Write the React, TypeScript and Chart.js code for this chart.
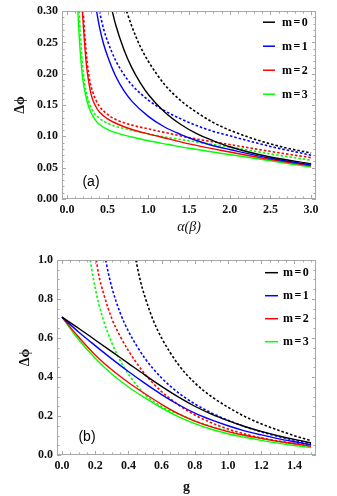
import React, { useEffect, useRef } from "react";
import { Chart, registerables } from "chart.js";

Chart.register(...registerables);

// ---------- Panel (a) data ----------
const aXTicks = [0, 0.5, 1.0, 1.5, 2.0, 2.5, 3.0];
const aYTicks = [0, 0.05, 0.1, 0.15, 0.2, 0.25, 0.3];

const aM0SolidX = [0.557, 0.6, 0.7, 0.8, 0.9, 1.0, 1.2, 1.4, 1.6, 1.8, 2.0, 2.5, 3.0];
const aM0SolidY = [0.3, 0.278, 0.239, 0.209, 0.186, 0.167, 0.139, 0.119, 0.104, 0.093, 0.0835, 0.067, 0.0565];
const aM0DashX = [0.733, 0.8, 0.9, 1.0, 1.2, 1.4, 1.6, 1.8, 2.0, 2.25, 2.5, 2.75, 3.0];
const aM0DashY = [0.3, 0.275, 0.244, 0.22, 0.183, 0.157, 0.138, 0.122, 0.11, 0.098, 0.088, 0.08, 0.0735];

const aM1SolidX = [0.365, 0.4, 0.45, 0.5, 0.6, 0.7, 0.8, 1.0, 1.2, 1.4, 1.6, 1.8, 2.0, 2.5, 3.0];
const aM1SolidY = [0.3, 0.275, 0.248, 0.228, 0.196, 0.173, 0.156, 0.132, 0.115, 0.103, 0.093, 0.085, 0.079, 0.065, 0.0545];
const aM1DashX = [0.4, 0.45, 0.5, 0.6, 0.7, 0.8, 1.0, 1.2, 1.4, 1.6, 1.8, 2.0, 2.5, 3.0];
const aM1DashY = [0.3, 0.272, 0.252, 0.221, 0.199, 0.182, 0.158, 0.141, 0.128, 0.117, 0.108, 0.101, 0.084, 0.07];

const aM2SolidX = [0.19, 0.21, 0.23, 0.25, 0.3, 0.35, 0.4, 0.5, 0.6, 0.8, 1.0, 1.25, 1.5, 2.0, 2.5, 3.0];
const aM2SolidY = [0.3, 0.262, 0.228, 0.203, 0.166, 0.149, 0.139, 0.128, 0.121, 0.111, 0.104, 0.096, 0.088, 0.075, 0.063, 0.053];
const aM2DashX = [0.2, 0.22, 0.25, 0.28, 0.32, 0.36, 0.4, 0.5, 0.6, 0.8, 1.0, 1.25, 1.5, 2.0, 2.5, 3.0];
const aM2DashY = [0.3, 0.262, 0.218, 0.19, 0.17, 0.157, 0.148, 0.135, 0.127, 0.118, 0.112, 0.105, 0.098, 0.087, 0.076, 0.066];

const aM3SolidX = [0.135, 0.15, 0.17, 0.2, 0.25, 0.3, 0.35, 0.4, 0.5, 0.6, 0.8, 1.0, 1.25, 1.5, 2.0, 2.5, 3.0];
const aM3SolidY = [0.3, 0.262, 0.225, 0.187, 0.155, 0.137, 0.126, 0.119, 0.111, 0.106, 0.099, 0.093, 0.087, 0.081, 0.071, 0.061, 0.051];
const aM3DashX = [0.15, 0.17, 0.2, 0.23, 0.27, 0.32, 0.4, 0.5, 0.6, 0.8, 1.0, 1.25, 1.5, 2.0, 2.5, 3.0];
const aM3DashY = [0.3, 0.252, 0.203, 0.175, 0.155, 0.14, 0.129, 0.121, 0.116, 0.11, 0.104, 0.098, 0.093, 0.083, 0.072, 0.062];

// ---------- Panel (b) data ----------
const bXTicks = [0, 0.2, 0.4, 0.6, 0.8, 1.0, 1.2, 1.4];
const bYTicks = [0, 0.2, 0.4, 0.6, 0.8, 1.0];

const bSolidX = [0, 0.1, 0.2, 0.3, 0.4, 0.5, 0.6, 0.7, 0.8, 0.9, 1.0, 1.1, 1.2, 1.3, 1.4, 1.5];
const bM0SolidY = [0.707, 0.65, 0.59, 0.53, 0.47, 0.41, 0.352, 0.298, 0.25, 0.21, 0.176, 0.146, 0.121, 0.099, 0.08, 0.063];
const bM1SolidY = [0.707, 0.631, 0.561, 0.493, 0.428, 0.367, 0.31, 0.259, 0.215, 0.18, 0.15, 0.124, 0.103, 0.084, 0.068, 0.053];
const bM2SolidY = [0.707, 0.605, 0.513, 0.437, 0.372, 0.314, 0.26, 0.212, 0.174, 0.144, 0.12, 0.101, 0.085, 0.07, 0.058, 0.045];
const bM3SolidY = [0.707, 0.592, 0.496, 0.415, 0.349, 0.293, 0.242, 0.197, 0.161, 0.132, 0.109, 0.091, 0.075, 0.061, 0.049, 0.038];

const bM0DashX = [0.445, 0.47, 0.5, 0.55, 0.6, 0.7, 0.8, 0.9, 1.0, 1.1, 1.2, 1.3, 1.4, 1.5];
const bM0DashY = [1.0, 0.9, 0.81, 0.69, 0.6, 0.465, 0.37, 0.3, 0.245, 0.198, 0.16, 0.128, 0.099, 0.073];
const bM1DashX = [0.263, 0.28, 0.3, 0.35, 0.4, 0.45, 0.5, 0.6, 0.7, 0.8, 0.9, 1.0, 1.1, 1.2, 1.3, 1.4, 1.5];
const bM1DashY = [1.0, 0.93, 0.86, 0.73, 0.635, 0.56, 0.495, 0.395, 0.32, 0.262, 0.216, 0.178, 0.146, 0.119, 0.096, 0.076, 0.058];
const bM2DashX = [0.207, 0.22, 0.25, 0.3, 0.35, 0.4, 0.5, 0.6, 0.7, 0.8, 0.9, 1.0, 1.1, 1.2, 1.3, 1.4, 1.5];
const bM2DashY = [1.0, 0.93, 0.83, 0.7, 0.61, 0.535, 0.415, 0.325, 0.258, 0.205, 0.165, 0.133, 0.108, 0.088, 0.072, 0.06, 0.05];
const bM3DashX = [0.17, 0.19, 0.22, 0.25, 0.3, 0.35, 0.4, 0.5, 0.6, 0.7, 0.8, 0.9, 1.0, 1.1, 1.2, 1.3, 1.4, 1.5];
const bM3DashY = [1.0, 0.9, 0.78, 0.69, 0.575, 0.485, 0.415, 0.31, 0.248, 0.21, 0.175, 0.146, 0.122, 0.102, 0.085, 0.07, 0.056, 0.043];

const legendLabels = ["m=0", "m=1", "m=2", "m=3"];
const seriesColors = ["#000000", "#0000ff", "#ff0000", "#00ff00"];

const SERIF = "'Liberation Serif', 'Times New Roman', serif";
const SANS = "'Liberation Sans', Arial, sans-serif";
const FRAME = "#a8a8a8";

const toPts = (xs: number[], ys: number[]) => xs.map((x, i) => ({ x, y: ys[i] }));

function makeDs(xs: number[], ys: number[], idx: number, dashed: boolean) {
  return {
    label: dashed ? "" : legendLabels[idx],
    data: toPts(xs, ys),
    borderColor: seriesColors[idx],
    backgroundColor: seriesColors[idx],
    borderWidth: dashed ? 1.6 : 1.4,
    borderDash: dashed ? [2.5, 2] : [],
    pointRadius: 0,
    fill: false,
    cubicInterpolationMode: "monotone" as const,
    isDashed: dashed,
  };
}

const frameTicksPlugin = {
  id: "frameTicks",
  afterDatasetsDraw(chart: any, _a: any, opts: any) {
    const { ctx, chartArea } = chart;
    const { left, right, top, bottom } = chartArea;
    const xs = chart.scales.x;
    const ys = chart.scales.y;
    ctx.save();
    ctx.strokeStyle = FRAME;
    ctx.lineWidth = 1;
    ctx.strokeRect(Math.round(left) + 0.5, Math.round(top) + 0.5, Math.round(right - left) - 1, Math.round(bottom - top) - 1);
    const major = 4;
    const minor = 2.5;
    ctx.beginPath();
    const drawX = (step: number, ratio: number) => {
      const k0 = Math.ceil(xs.min / step - 1e-9);
      const k1 = Math.floor(xs.max / step + 1e-9);
      for (let k = k0; k <= k1; k++) {
        const v = k * step;
        const p = Math.round(xs.getPixelForValue(v)) + 0.5;
        const len = k % ratio === 0 ? major : minor;
        ctx.moveTo(p, bottom);
        ctx.lineTo(p, bottom - len);
        ctx.moveTo(p, top);
        ctx.lineTo(p, top + len);
      }
    };
    const drawY = (step: number, ratio: number) => {
      const k0 = Math.ceil(ys.min / step - 1e-9);
      const k1 = Math.floor(ys.max / step + 1e-9);
      for (let k = k0; k <= k1; k++) {
        const v = k * step;
        const p = Math.round(ys.getPixelForValue(v)) + 0.5;
        const len = k % ratio === 0 ? major : minor;
        ctx.moveTo(left, p);
        ctx.lineTo(left + len, p);
        ctx.moveTo(right, p);
        ctx.lineTo(right - len, p);
      }
    };
    drawX(opts.xMinor, opts.xRatio);
    drawY(opts.yMinor, opts.yRatio);
    ctx.stroke();

    // legend
    const dsList = chart.data.datasets.filter((d: any) => !d.isDashed);
    ctx.font = `bold 12px ${SERIF}`;
    ctx.textBaseline = "middle";
    ctx.textAlign = "left";
    try {
      (ctx as any).letterSpacing = "1.5px";
    } catch (e) {
      /* ignore */
    }
    dsList.forEach((d: any, i: number) => {
      const y = top + opts.legTop + i * opts.legGap;
      ctx.beginPath();
      ctx.strokeStyle = d.borderColor;
      ctx.lineWidth = 1.5;
      ctx.moveTo(right - opts.legLine0, y);
      ctx.lineTo(right - opts.legLine1, y);
      ctx.stroke();
      ctx.fillStyle = "#000";
      ctx.fillText(d.label, right - opts.legText, y + 0.5);
    });
    try {
      (ctx as any).letterSpacing = "0px";
    } catch (e) {
      /* ignore */
    }

    // panel tag
    ctx.font = `14px ${SANS}`;
    ctx.fillStyle = "#000";
    ctx.textAlign = "center";
    ctx.fillText(opts.tag, left + opts.tagDx, bottom - opts.tagDy);
    ctx.restore();
  },
};

interface PanelProps {
  datasets: any[];
  xMin: number;
  xMax: number;
  yMin: number;
  yMax: number;
  xTicks: number[];
  yTicks: number[];
  xDec: number;
  yDec: number;
  yAxisW: number;
  xAxisH: number;
  padTop: number;
  padRight: number;
  xTitle: string;
  xTitleItalic: boolean;
  xTitlePadBottom: number;
  yTitlePadTop: number;
  frameOpts: any;
  top: number;
}

function Panel(p: PanelProps) {
  const ref = useRef<HTMLCanvasElement | null>(null);
  useEffect(() => {
    if (!ref.current) return;
    const chart = new Chart(ref.current, {
      type: "line",
      data: { datasets: p.datasets },
      plugins: [frameTicksPlugin],
      options: {
        animation: false,
        responsive: false,
        devicePixelRatio: 1,
        layout: { padding: { top: p.padTop, right: p.padRight, left: 0, bottom: 0 } },
        plugins: {
          legend: { display: false },
          tooltip: { enabled: false },
          frameTicks: p.frameOpts,
        } as any,
        scales: {
          x: {
            type: "linear",
            min: p.xMin,
            max: p.xMax,
            grid: { display: false, drawTicks: false },
            border: { display: false },
            afterBuildTicks: (s: any) => {
              s.ticks = p.xTicks.map((v) => ({ value: v }));
            },
            afterFit: (s: any) => {
              s.height = p.xAxisH;
            },
            ticks: {
              padding: 4,
              maxRotation: 0,
              autoSkip: false,
              color: "#111",
              font: { family: SERIF, weight: "bold", size: 12 },
              callback: (v: any) => Number(v).toFixed(p.xDec),
            },
            title: {
              display: true,
              text: p.xTitle,
              color: "#111",
              padding: { top: 0, bottom: p.xTitlePadBottom },
              font: p.xTitleItalic
                ? { family: SERIF, style: "italic", size: 14 }
                : { family: SERIF, weight: "bold", size: 14 },
            },
          },
          y: {
            type: "linear",
            min: p.yMin,
            max: p.yMax,
            grid: { display: false, drawTicks: false },
            border: { display: false },
            afterBuildTicks: (s: any) => {
              s.ticks = p.yTicks.map((v) => ({ value: v }));
            },
            afterFit: (s: any) => {
              s.width = p.yAxisW;
            },
            ticks: {
              padding: 4,
              autoSkip: false,
              color: "#111",
              font: { family: SERIF, weight: "bold", size: 12 },
              callback: (v: any) => Number(v).toFixed(p.yDec),
            },
            title: {
              display: true,
              text: "Δϕ",
              color: "#111",
              padding: { top: p.yTitlePadTop, bottom: 0 },
              font: { family: SERIF, weight: "bold", size: 14 },
            },
          },
        },
      } as any,
    });
    return () => chart.destroy();
  }, []);
  return (
    <canvas
      ref={ref}
      width={337}
      height={248}
      style={{ position: "absolute", left: 0, top: p.top, width: 337, height: 248 }}
    />
  );
}

export default function App() {
  const dsA = [
    makeDs(aM0SolidX, aM0SolidY, 0, false),
    makeDs(aM1SolidX, aM1SolidY, 1, false),
    makeDs(aM2SolidX, aM2SolidY, 2, false),
    makeDs(aM3SolidX, aM3SolidY, 3, false),
    makeDs(aM0DashX, aM0DashY, 0, true),
    makeDs(aM1DashX, aM1DashY, 1, true),
    makeDs(aM2DashX, aM2DashY, 2, true),
    makeDs(aM3DashX, aM3DashY, 3, true),
  ];
  const dsB = [
    makeDs(bSolidX, bM0SolidY, 0, false),
    makeDs(bSolidX, bM1SolidY, 1, false),
    makeDs(bSolidX, bM2SolidY, 2, false),
    makeDs(bSolidX, bM3SolidY, 3, false),
    makeDs(bM0DashX, bM0DashY, 0, true),
    makeDs(bM1DashX, bM1DashY, 1, true),
    makeDs(bM2DashX, bM2DashY, 2, true),
    makeDs(bM3DashX, bM3DashY, 3, true),
  ];
  return (
    <div style={{ position: "absolute", left: 0, top: 0, width: 337, height: 496, background: "#fff", overflow: "hidden" }}>
      <Panel
        datasets={dsA}
        xMin={-0.06}
        xMax={3.06}
        yMin={0}
        yMax={0.3}
        xTicks={aXTicks}
        yTicks={aYTicks}
        xDec={1}
        yDec={2}
        yAxisW={62}
        xAxisH={49}
        padTop={8}
        padRight={21}
        xTitle="α(β)"
        xTitleItalic={true}
        xTitlePadBottom={12}
        yTitlePadTop={12}
        frameOpts={{ xMinor: 0.1, xRatio: 5, yMinor: 0.01, yRatio: 5, legTop: 11, legGap: 24, legLine0: 53, legLine1: 41, legText: 34, tag: "(a)", tagDx: 29, tagDy: 17 }}
        top={0}
      />
      <Panel
        datasets={dsB}
        xMin={-0.03}
        xMax={1.53}
        yMin={0}
        yMax={1.0}
        xTicks={bXTicks}
        yTicks={bYTicks}
        xDec={1}
        yDec={1}
        yAxisW={57}
        xAxisH={41}
        padTop={12}
        padRight={21}
        xTitle="g"
        xTitleItalic={false}
        xTitlePadBottom={0}
        yTitlePadTop={17}
        frameOpts={{ xMinor: 0.05, xRatio: 4, yMinor: 0.05, yRatio: 4, legTop: 12.7, legGap: 23, legLine0: 51, legLine1: 38, legText: 33, tag: "(b)", tagDx: 30, tagDy: 17.5 }}
        top={248}
      />
    </div>
  );
}
